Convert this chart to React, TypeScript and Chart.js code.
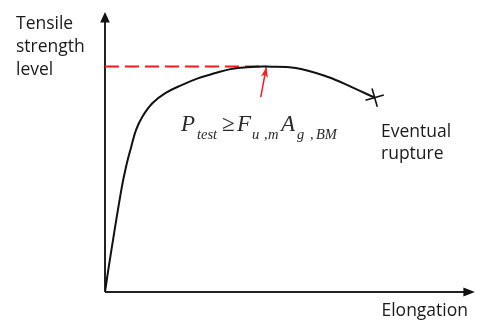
import { useEffect, useRef } from "react";
import { Chart, registerables } from "chart.js";

Chart.register(...registerables);

// Stress–elongation curve (arbitrary units, 0–100 on both axes)
const elongation = [0, 1.3, 4.4, 5.7, 7.1, 8.4, 10.1, 12.8, 16.3, 20.7, 25.1, 29.6, 33.9, 38.4, 43.6, 51.6, 60.3, 66.7, 72.9];
const strength = [0, 11.4, 36.4, 44.8, 51.9, 57.9, 62.6, 67.4, 71.0, 73.9, 76.3, 78.1, 79.6, 80.3, 80.5, 80.0, 76.8, 73.2, 69.4];

// Tensile strength level and where it is reached
const tensileLevel = 80.5;
const peakElongation = 43.6;

// Pointer arrow to the peak
const arrowX = [42.1, 43.6];
const arrowY = [69.6, 80.2];

// Rupture point
const ruptureX = [72.9];
const ruptureY = [69.4];

const yTitleLines = ["Tensile", "strength", "level"];
const xTitle = "Elongation";
const ruptureLines = ["Eventual", "rupture"];

const SANS = '"Open Sans", "Noto Sans", sans-serif';
const SERIF = '"Liberation Serif", "DejaVu Serif", serif';

function filledArrow(ctx: CanvasRenderingContext2D, tipX: number, tipY: number, angle: number, len: number, half: number, notch: number) {
  ctx.save();
  ctx.translate(tipX, tipY);
  ctx.rotate(angle);
  ctx.beginPath();
  ctx.moveTo(0, 0);
  ctx.lineTo(-len, -half);
  ctx.lineTo(-len + notch, 0);
  ctx.lineTo(-len, half);
  ctx.closePath();
  ctx.fill();
  ctx.restore();
}

const diagramPlugin = {
  id: "diagram",
  beforeDatasetsDraw(chart: any) {
    const { ctx, scales } = chart;
    const x0 = scales.x.getPixelForValue(0);
    const x1 = scales.x.getPixelForValue(100);
    const y0 = scales.y.getPixelForValue(0);
    const y1 = scales.y.getPixelForValue(100);
    ctx.save();
    ctx.strokeStyle = "#222";
    ctx.fillStyle = "#111";
    ctx.lineWidth = 2;
    ctx.beginPath();
    ctx.moveTo(x0, y0);
    ctx.lineTo(x0, y1 + 8);
    ctx.moveTo(x0, y0);
    ctx.lineTo(x1 - 8, y0);
    ctx.stroke();
    filledArrow(ctx, x0, y1, -Math.PI / 2, 10.5, 4.8, 0);
    filledArrow(ctx, x1, y0, 0, 11.5, 4.6, 0);
    ctx.restore();
  },
  afterDatasetsDraw(chart: any) {
    const { ctx } = chart;
    // arrowhead on the pointer
    const meta = chart.getDatasetMeta(2);
    const a = meta.data[0];
    const b = meta.data[1];
    const ang = Math.atan2(b.y - a.y, b.x - a.x);
    ctx.save();
    ctx.fillStyle = "#ff1a1a";
    filledArrow(ctx, b.x, b.y, ang, 10, 3.6, 3);

    // labels
    ctx.fillStyle = "#1a1a1a";
    ctx.textBaseline = "alphabetic";
    ctx.font = `17.5px ${SANS}`;
    yTitleLines.forEach((t, i) => ctx.fillText(t, 16, 29 + i * 23));
    ctx.textAlign = "right";
    ctx.fillText(xTitle, 468, 316);
    ctx.textAlign = "left";
    ruptureLines.forEach((t, i) => ctx.fillText(t, 381, 137 + i * 22));

    // formula: P_test >= F_u,m A_g,BM
    const base = 131;
    const sub = base + 8;
    const big = `italic 23px ${SERIF}`;
    const small = `italic 14.5px ${SERIF}`;
    ctx.fillStyle = "#2a2a2a";
    const runs: [string, string, number, number][] = [
      ["P", big, 181, base],
      ["test", small, 197, sub],
      ["\u2265", `23px ${SERIF}`, 222, base],
      ["F", big, 237, base],
      ["u", small, 252, sub],
      [",", small, 264, sub],
      ["m", small, 268, sub],
      ["A", big, 281, base],
      ["g", small, 297, sub],
      [",", small, 310, sub],
      ["BM", small, 316, sub],
    ];
    runs.forEach(([t, f, x, y]) => {
      ctx.font = f;
      ctx.fillText(t, x, y);
    });
    ctx.restore();
  },
};

export default function App() {
  const ref = useRef<HTMLCanvasElement>(null);

  useEffect(() => {
    if (!ref.current) return;
    const chart = new Chart(ref.current, {
      type: "scatter",
      data: {
        datasets: [
          {
            label: "curve",
            data: elongation.map((x, i) => ({ x, y: strength[i] })),
            showLine: true,
            borderColor: "#111",
            borderWidth: 2,
            pointRadius: 0,
            tension: 0.4,
          },
          {
            label: "tensile level",
            data: [
              { x: 0, y: tensileLevel },
              { x: peakElongation, y: tensileLevel },
            ],
            showLine: true,
            borderColor: "#ff1a1a",
            borderWidth: 2,
            borderDash: [14, 6],
            pointRadius: 0,
          },
          {
            label: "pointer",
            data: arrowX.map((x, i) => ({ x, y: arrowY[i] })),
            showLine: true,
            borderColor: "#ff1a1a",
            borderWidth: 1.5,
            pointRadius: 0,
          },
          {
            label: "rupture",
            data: ruptureX.map((x, i) => ({ x, y: ruptureY[i] })),
            pointStyle: "cross",
            pointRadius: 9.5,
            pointRotation: -16,
            borderColor: "#111",
            borderWidth: 1.6,
            backgroundColor: "#111",
          },
        ],
      },
      options: {
        responsive: false,
        animation: false,
        layout: { padding: { left: 105, right: 3, top: 12, bottom: 28 } },
        scales: {
          x: { type: "linear", min: 0, max: 100, display: false },
          y: { type: "linear", min: 0, max: 100, display: false },
        },
        plugins: {
          legend: { display: false },
          tooltip: { enabled: false },
        },
      },
      plugins: [diagramPlugin],
    });
    return () => chart.destroy();
  }, []);

  return (
    <div style={{ position: "absolute", left: 0, top: 0, width: 486, height: 320, background: "#fff" }}>
      <canvas ref={ref} width={486} height={320} />
    </div>
  );
}
